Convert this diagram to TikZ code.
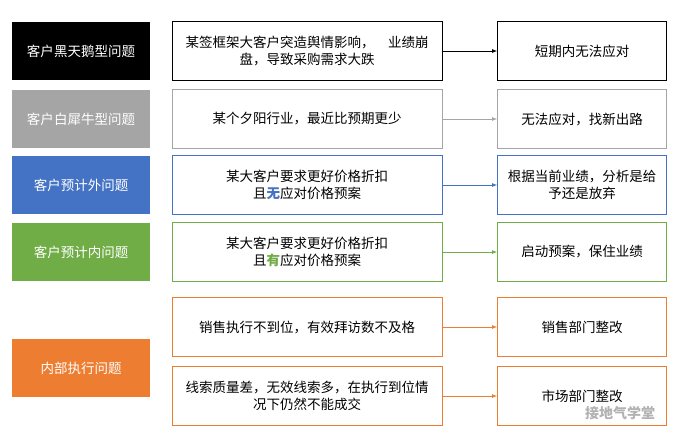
\documentclass[tikz,border=0pt]{standalone}
\usepackage{fontspec}
\setmainfont{Noto Sans CJK SC}
\usetikzlibrary{arrows.meta,positioning}
\definecolor{cblue}{RGB}{68,114,196}
\definecolor{cgreen}{RGB}{112,173,71}
\definecolor{corange}{RGB}{237,125,49}
\definecolor{cgrey}{RGB}{165,165,165}
\begin{document}
\begin{tikzpicture}
	[
		x=1pt, y=-1pt,
		L/.style = {rectangle, align=center, minimum width=138pt, minimum height=58pt, text=white, font=\fontsize{13.5}{17}\selectfont, inner sep=0pt},
		M/.style = {rectangle, align=center, draw, minimum width=270pt, minimum height=59pt, fill=white, font=\fontsize{13.5}{17}\selectfont, inner sep=0pt, line width=0.8pt},
		R/.style = {rectangle, align=center, draw, minimum width=169pt, minimum height=59pt, fill=white, font=\fontsize{13.5}{17}\selectfont, inner sep=0pt, line width=0.8pt},
		A/.style = {-{Latex[length=5pt,width=4pt]}, line width=0.8pt},
	]
	\useasboundingbox (0,0) rectangle (685,445);

	% problem types
	\node[L, fill=black] (l1) at ( 81, 51) {客户黑天鹅型问题};
	\node[L, fill=cgrey] (l2) at ( 81,119) {客户白犀牛型问题};
	\node[L, fill=cblue] (l3) at ( 81,185) {客户预计外问题};
	\node[L, fill=cgreen] (l4) at ( 81,252) {客户预计内问题};
	\node[L, fill=corange] (l5) at ( 81,368) {内部执行问题};

	% cases
	\node[M, draw=black] (m1) at (307, 51) {某签框架大客户突造舆情影响，\quad 业绩崩\\盘，导致采购需求大跌};
	\node[M, draw=cgrey] (m2) at (307,119) {某个夕阳行业，最近比预期更少};
	\node[M, draw=cblue] (m3) at (307,185) {某大客户要求更好价格折扣\\且{\color{cblue}\bfseries 无}应对价格预案};
	\node[M, draw=cgreen] (m4) at (307,252) {某大客户要求更好价格折扣\\且{\color{cgreen}\bfseries 有}应对价格预案};
	\node[M, draw=corange] (m5) at (307,327) {销售执行不到位，有效拜访数不及格};
	\node[M, draw=corange] (m6) at (307,396) {线索质量差，无效线索多，在执行到位情\\况下仍然不能成交};

	% responses
	\node[R, draw=black] (r1) at (582, 51) {短期内无法应对};
	\node[R, draw=cgrey] (r2) at (582,119) {无法应对，找新出路};
	\node[R, draw=cblue] (r3) at (582,185) {根据当前业绩，分析是给\\予还是放弃};
	\node[R, draw=cgreen] (r4) at (582,252) {启动预案，保住业绩};
	\node[R, draw=corange] (r5) at (582,327) {销售部门整改};
	\node[R, draw=corange] (r6) at (582,396) {市场部门整改};

	\foreach \from/\to/\c in {m1/r1/black,m2/r2/cgrey,m3/r3/cblue,m4/r4/cgreen,m5/r5/corange,m6/r6/corange}
	\draw[A, \c] (\from) -- (\to);

	\node[text=gray!60, font=\fontsize{14}{16}\selectfont\bfseries] (wm) at (620,413) {接地气学堂};
\end{tikzpicture}
\end{document}
